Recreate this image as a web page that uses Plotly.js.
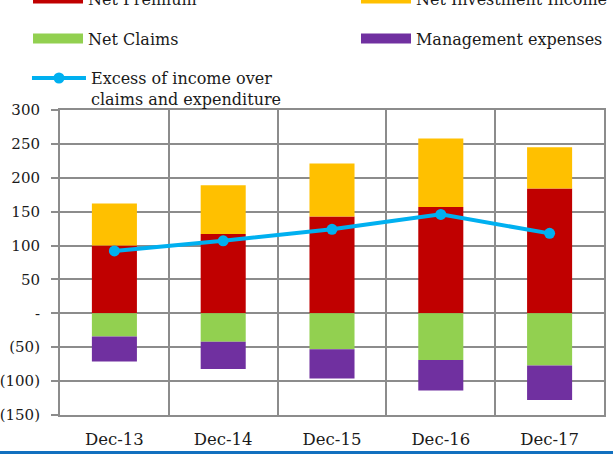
<!DOCTYPE html>
<html>
<head>
<meta charset="utf-8">
<script src="https://cdn.plot.ly/plotly-3.0.1.min.js"></script>
<style>html,body{margin:0;padding:0;background:#fff;}#chart{width:613px;height:454px;}</style>
</head>
<body>
<div id="chart"></div>
<script>
// ---- data ----
const categories = ["Dec-13", "Dec-14", "Dec-15", "Dec-16", "Dec-17"];
const netPremium = [100, 117, 143, 157, 184];
const netInvestmentIncome = [62, 72, 78, 101, 61];
const netClaims = [-34, -42, -53, -69, -77];
const managementExpenses = [-37, -40, -43, -45, -51];
const excessIncome = [92, 107, 124, 146, 118];
const yTickVals = [-150, -100, -50, 0, 50, 100, 150, 200, 250, 300];
const yTickText = ["(150)", "(100)", "(50)", "-", "50", "100", "150", "200", "250", "300"];

const names = {
  prem: "Net Premium",
  inv: "Net Investment Income",
  claims: "Net Claims",
  mgmt: "Management expenses",
  excess: "Excess of income over<br>claims and expenditure"
};
const colors = {
  prem: "#C00000",
  inv: "#FFC000",
  claims: "#92D050",
  mgmt: "#7030A0",
  excess: "#00B0F0"
};

const FONT = "DejaVu Serif";
const GRID = "#8c8c8c";

function barTrace(key, vals) {
  return {
    type: "bar", x: categories, y: vals, name: names[key],
    marker: {color: colors[key]}, showlegend: false, hoverinfo: "x+y+name"
  };
}
function legendProxy(key, legendId) {
  return {
    type: "scatter", mode: "lines", x: [null], y: [null], name: names[key],
    line: {color: colors[key], width: 10}, legend: legendId, hoverinfo: "skip"
  };
}

const traces = [
  barTrace("prem", netPremium),
  barTrace("inv", netInvestmentIncome),
  barTrace("claims", netClaims),
  barTrace("mgmt", managementExpenses),
  {
    type: "scatter", mode: "lines+markers", x: categories, y: excessIncome,
    name: names.excess, line: {color: colors.excess, width: 4},
    marker: {color: colors.excess, size: 11}, legend: "legend5"
  },
  legendProxy("prem", "legend"),
  legendProxy("inv", "legend2"),
  legendProxy("claims", "legend3"),
  legendProxy("mgmt", "legend4")
];

function legendBox(x, y, w) {
  return {
    xref: "paper", yref: "paper", x: x, y: y, xanchor: "left", yanchor: "top",
    orientation: "v", bgcolor: "rgba(0,0,0,0)", borderwidth: 0,
    itemwidth: w, valign: "top", itemclick: false, itemdoubleclick: false,
    font: {family: FONT, size: 16, color: "#1a1a1a"}
  };
}

const layout = {
  width: 613, height: 454,
  margin: {l: 60, r: 9, t: 110, b: 39, autoexpand: false},
  paper_bgcolor: "#ffffff", plot_bgcolor: "#ffffff",
  barmode: "relative", bargap: 0.586,
  font: {family: FONT, color: "#1a1a1a"},
  xaxis: {
    type: "category", tickson: "boundaries", ticks: "",
    showgrid: true, gridcolor: GRID, gridwidth: 2,
    showline: true, linecolor: GRID, linewidth: 2, mirror: true,
    tickfont: {family: FONT, size: 16.5, color: "#1a1a1a"},
    ticklabelstandoff: 8, fixedrange: true
  },
  yaxis: {
    range: [-150, 300], tickvals: yTickVals, ticktext: yTickText,
    ticks: "outside", ticklen: 7, tickwidth: 2, tickcolor: GRID,
    showgrid: true, gridcolor: GRID, gridwidth: 2, zeroline: false,
    showline: true, linecolor: GRID, linewidth: 2, mirror: true,
    tickfont: {family: FONT, size: 15, color: "#1a1a1a"},
    ticklabelstandoff: 8, fixedrange: true
  },
  legend: legendBox(-0.0588, 1.421, 50),
  legend2: legendBox(0.5441, 1.421, 50),
  legend3: legendBox(-0.0588, 1.2898, 50),
  legend4: legendBox(0.5441, 1.2898, 50),
  legend5: legendBox(-0.0607, 1.1603, 54),
  shapes: [{
    type: "rect", xref: "paper", yref: "paper",
    x0: -0.12, x1: 1.02, y0: -0.1279, y1: -0.118,
    fillcolor: "#1170BF", line: {width: 0}, layer: "above"
  }]
};

Plotly.newPlot("chart", traces, layout, {displayModeBar: false, staticPlot: false});
</script>
</body>
</html>
